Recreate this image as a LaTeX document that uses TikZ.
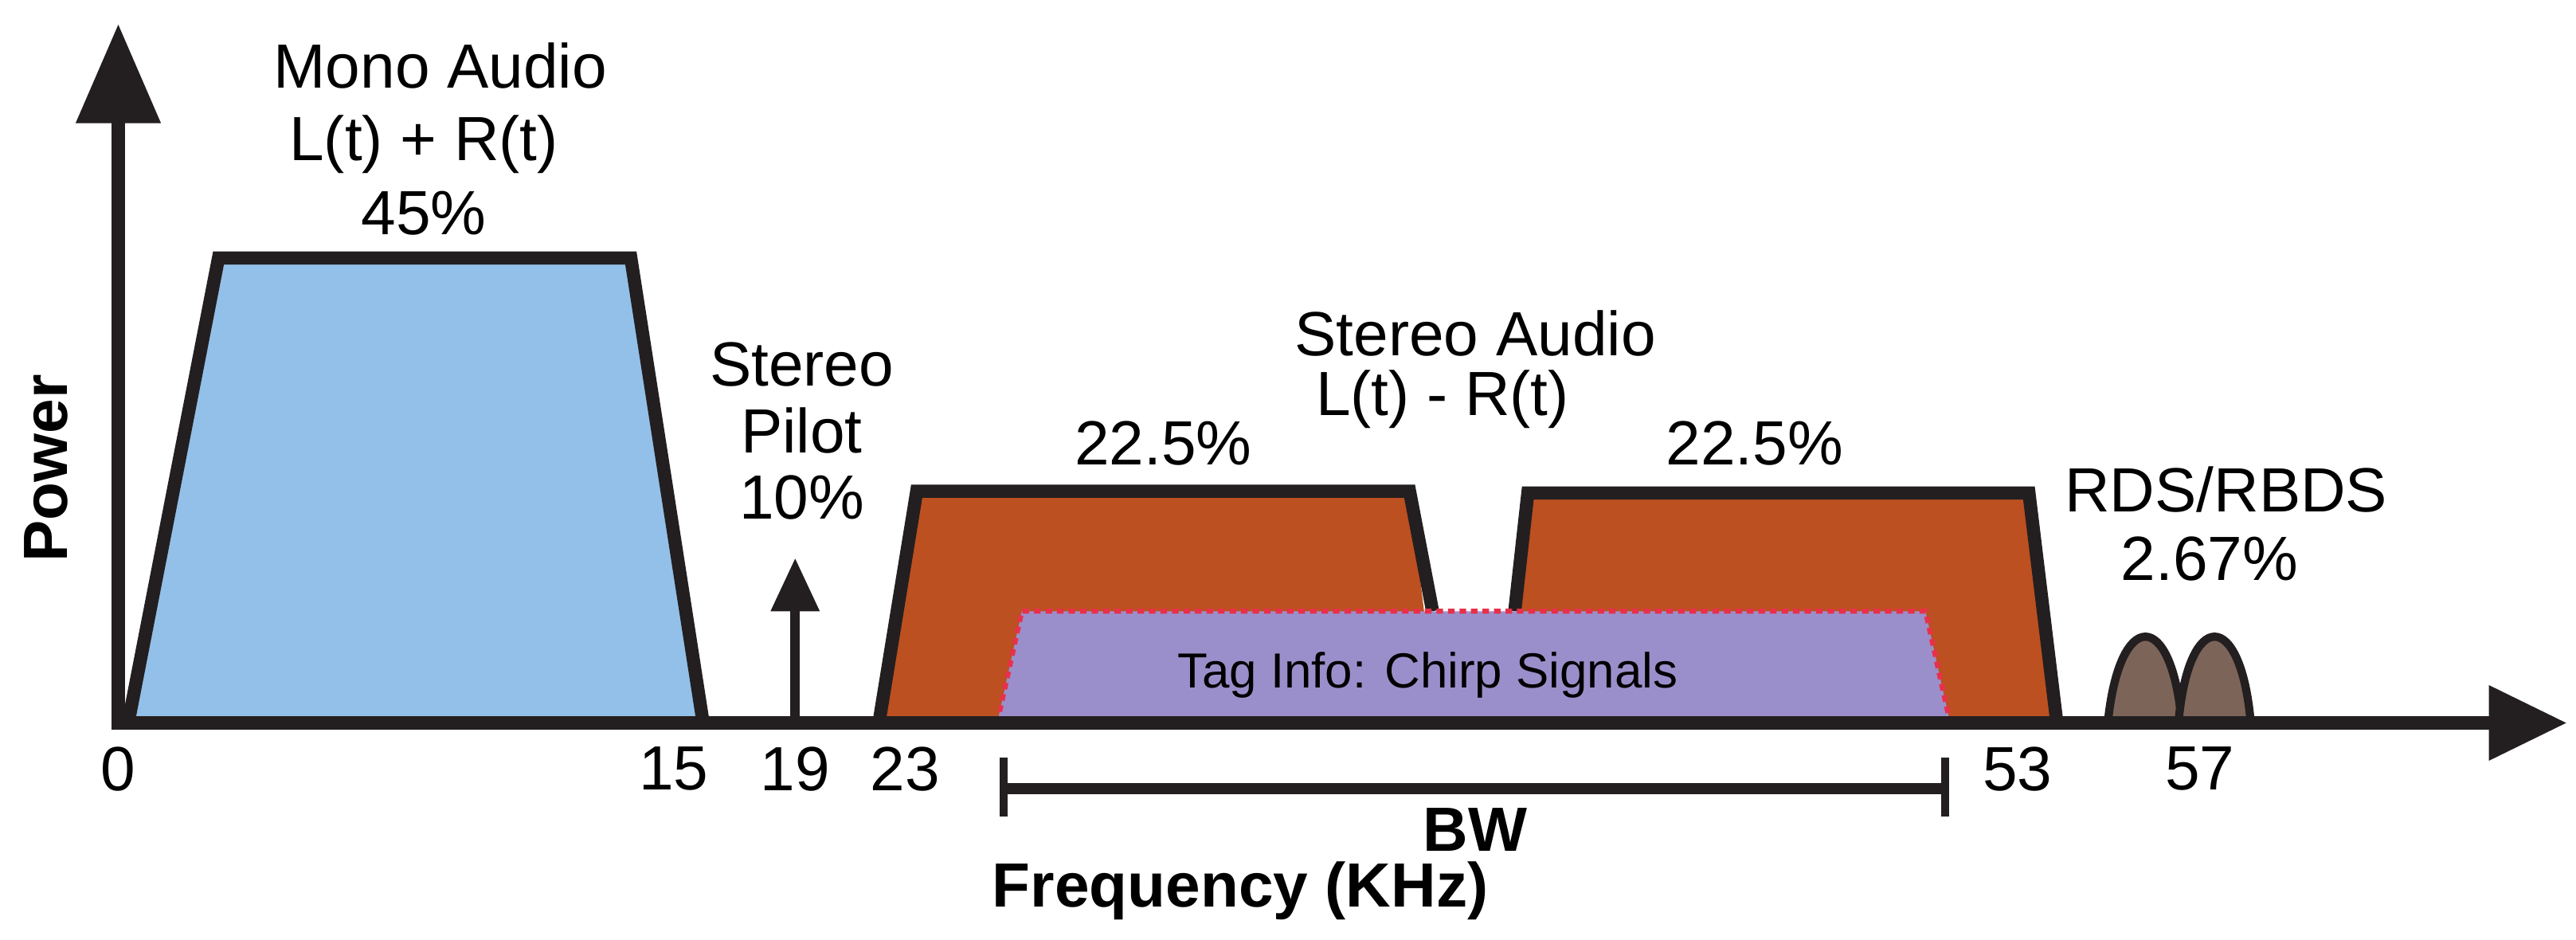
\documentclass[tikz,border=0pt]{standalone}
\usepackage{fontspec}
\setmainfont{Liberation Sans}
\definecolor{monoblue}{RGB}{147,192,232}
\definecolor{stereoor}{RGB}{188,80,32}
\definecolor{tagpurple}{RGB}{155,143,203}
\definecolor{tagred}{RGB}{232,48,74}
\definecolor{rdsbrown}{RGB}{125,100,89}
\definecolor{ink}{RGB}{35,31,32}
\begin{document}
\begin{tikzpicture}[x=1pt,y=-1pt,
  lbl/.style={font=\fontsize{38}{40}\selectfont, inner sep=0pt, align=center},
  blbl/.style={font=\fontsize{38}{40}\selectfont\bfseries, inner sep=0pt},
  band/.style={line width=8pt, line join=miter, draw=ink},
  arr/.style={fill=ink, draw=none}]
\useasboundingbox (0,0) rectangle (1568,572);
% bands
\draw[band, fill=monoblue] (78,440) -- (133,157) -- (384,157) -- (428,440);
\fill[stereoor] (535,440) -- (558,299) -- (858,299) -- (875,440) -- cycle;
\draw[band] (535,440) -- (558,299) -- (858,299) -- (872,372);
\fill[stereoor] (922,440) -- (930,300) -- (1235,300) -- (1252,440) -- cycle;
\draw[band] (922,372) -- (930,300) -- (1235,300) -- (1252,440);
\draw[draw=tagred, line width=3pt, dash pattern=on 4pt off 3pt, fill=tagpurple]
  (607,440) -- (622,372) -- (1172,372) -- (1187,440);
\node[font=\fontsize{30}{32}\selectfont, inner sep=0pt] (tag) at (869,411) {Tag Info: Chirp Signals};
% RDS humps
\draw[line width=5pt, draw=ink, fill=rdsbrown]
  (1283,440) .. controls (1290,370) and (1322,370) .. (1328,440) -- cycle;
\draw[line width=5pt, draw=ink, fill=rdsbrown]
  (1326,440) .. controls (1332,370) and (1364,370) .. (1370,440) -- cycle;
% axes
\coordinate (o) at (72,440);
\coordinate (ytop) at (72,70);
\coordinate (xstart) at (68,440);
\coordinate (xend) at (1518,440);
\draw[line width=8pt, draw=ink] (xstart) -- (xend);
\draw[line width=8pt, draw=ink] (o) -- (ytop);
\fill[arr] (46,75) -- (72,15) -- (98,75) -- cycle;
\fill[arr] (1515,417) -- (1562,440) -- (1515,463) -- cycle;
% pilot
\coordinate (p0) at (484,440);
\coordinate (p1) at (484,368);
\draw[line width=6pt, draw=ink] (p0) -- (p1);
\fill[arr] (469,372) -- (484,340) -- (499,372) -- cycle;
% BW bar
\coordinate (b0) at (611,480);
\coordinate (b1) at (1184,480);
\draw[line width=7pt, draw=ink] (b0) -- (b1);
\draw[line width=5pt, draw=ink] (611,461) -- (611,497);
\draw[line width=5pt, draw=ink] (1184,461) -- (1184,497);
% labels
\node[lbl] (m1) at (268,40) {Mono Audio};
\node[lbl] (m2) at (258,88) {L(t) + R(t)};
\node[lbl] (m3) at (258,130) {45\%};
\node[lbl] (s1) at (488,222) {Stereo};
\node[lbl] (s2) at (488,262) {Pilot};
\node[lbl] (s3) at (488,303) {10\%};
\node[lbl] (sa1) at (898,203) {Stereo Audio};
\node[lbl] (sa2) at (878,243) {L(t) - R(t)};
\node[lbl] (p1l) at (708,270) {22.5\%};
\node[lbl] (p2l) at (1068,270) {22.5\%};
\node[lbl] (r1) at (1355,298) {RDS/RBDS};
\node[lbl] (r2) at (1345,340) {2.67\%};
\node[lbl] (t0) at (72,468) {0};
\node[lbl] (t15) at (410,468) {15};
\node[lbl] (t19) at (484,468) {19};
\node[lbl] (t23) at (551,468) {23};
\node[lbl] (t53) at (1228,468) {53};
\node[lbl] (t57) at (1339,468) {57};
\node[blbl] (bw) at (898,505) {BW};
\node[blbl] (fr) at (755,542) {Frequency (KHz)};
\node[blbl, rotate=90] (pw) at (28,285) {Power};
\end{tikzpicture}
\end{document}
